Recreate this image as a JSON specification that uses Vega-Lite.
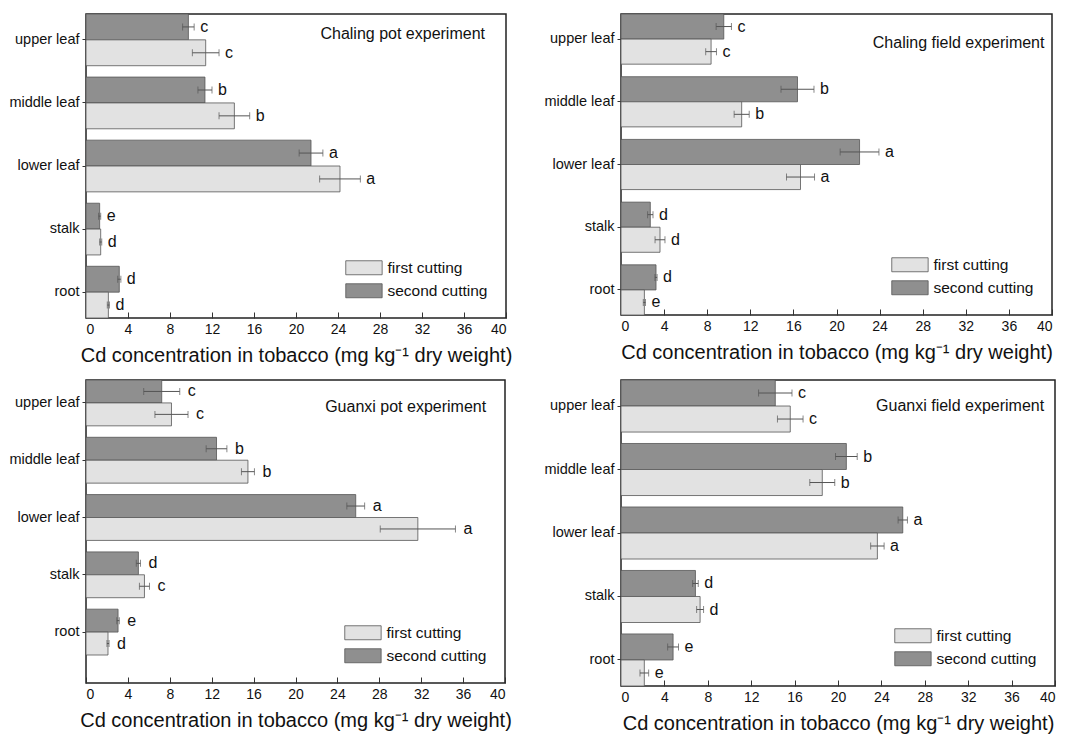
{
  "$schema": "https://vega.github.io/schema/vega-lite/v6.json",
  "padding": {"left": 8, "top": 12, "right": 5, "bottom": 5},
  "config": {
    "font": "Liberation Sans",
    "view": {"stroke": "#222", "strokeWidth": 1.5},
    "axis": {"domain": false, "grid": false, "labelColor": "#111", "titleColor": "#111", "tickColor": "#333", "labelFontWeight": "normal", "titleFontWeight": "normal"},
    "axisX": {"labelFontSize": 14, "titleFontSize": 20, "labelPadding": 10, "titlePadding": 9},
    "axisY": {"labelFontSize": 14.5, "tickSize": 4, "labelPadding": 3},
    "legend": {
      "orient": "bottom-right", "offset": 18, "title": null,
      "symbolType": "M-1,-1H4.2V1H-1Z", "symbolSize": 196,
      "symbolStrokeColor": "#555", "symbolStrokeWidth": 0.8,
      "labelFontSize": 15.5, "labelOffset": 27, "rowPadding": 5, "labelColor": "#111"
    },
    "bar": {"stroke": "#555", "strokeWidth": 0.8},
    "text": {"fontSize": 16, "color": "#111"}
  },
  "datasets": {
    "d": [
      {"p": "CP", "part": "upper leaf", "cut": "second cutting", "v": 9.75, "lo": 9.2, "hi": 10.3, "sig": "c"},
      {"p": "CP", "part": "upper leaf", "cut": "first cutting", "v": 11.4, "lo": 10.13, "hi": 12.67, "sig": "c"},
      {"p": "CP", "part": "middle leaf", "cut": "second cutting", "v": 11.33, "lo": 10.66, "hi": 12.0, "sig": "b"},
      {"p": "CP", "part": "middle leaf", "cut": "first cutting", "v": 14.13, "lo": 12.67, "hi": 15.59, "sig": "b"},
      {"p": "CP", "part": "lower leaf", "cut": "second cutting", "v": 21.43, "lo": 20.3, "hi": 22.56, "sig": "a"},
      {"p": "CP", "part": "lower leaf", "cut": "first cutting", "v": 24.19, "lo": 22.25, "hi": 26.13, "sig": "a"},
      {"p": "CP", "part": "stalk", "cut": "second cutting", "v": 1.3, "lo": 1.2, "hi": 1.4, "sig": "e"},
      {"p": "CP", "part": "stalk", "cut": "first cutting", "v": 1.4, "lo": 1.3, "hi": 1.5, "sig": "d"},
      {"p": "CP", "part": "root", "cut": "second cutting", "v": 3.17, "lo": 3.02, "hi": 3.32, "sig": "d"},
      {"p": "CP", "part": "root", "cut": "first cutting", "v": 2.13, "lo": 2.03, "hi": 2.23, "sig": "d"},

      {"p": "CF", "part": "upper leaf", "cut": "second cutting", "v": 9.54, "lo": 8.83, "hi": 10.25, "sig": "c"},
      {"p": "CF", "part": "upper leaf", "cut": "first cutting", "v": 8.36, "lo": 7.86, "hi": 8.86, "sig": "c"},
      {"p": "CF", "part": "middle leaf", "cut": "second cutting", "v": 16.38, "lo": 14.85, "hi": 17.91, "sig": "b"},
      {"p": "CF", "part": "middle leaf", "cut": "first cutting", "v": 11.2, "lo": 10.5, "hi": 11.9, "sig": "b"},
      {"p": "CF", "part": "lower leaf", "cut": "second cutting", "v": 22.14, "lo": 20.34, "hi": 23.94, "sig": "a"},
      {"p": "CF", "part": "lower leaf", "cut": "first cutting", "v": 16.66, "lo": 15.36, "hi": 17.96, "sig": "a"},
      {"p": "CF", "part": "stalk", "cut": "second cutting", "v": 2.72, "lo": 2.47, "hi": 2.97, "sig": "d"},
      {"p": "CF", "part": "stalk", "cut": "first cutting", "v": 3.62, "lo": 3.16, "hi": 4.08, "sig": "d"},
      {"p": "CF", "part": "root", "cut": "second cutting", "v": 3.25, "lo": 3.15, "hi": 3.35, "sig": "d"},
      {"p": "CF", "part": "root", "cut": "first cutting", "v": 2.17, "lo": 2.07, "hi": 2.27, "sig": "e"},

      {"p": "GP", "part": "upper leaf", "cut": "second cutting", "v": 7.23, "lo": 5.51, "hi": 8.95, "sig": "c"},
      {"p": "GP", "part": "upper leaf", "cut": "first cutting", "v": 8.16, "lo": 6.58, "hi": 9.74, "sig": "c"},
      {"p": "GP", "part": "middle leaf", "cut": "second cutting", "v": 12.46, "lo": 11.47, "hi": 13.45, "sig": "b"},
      {"p": "GP", "part": "middle leaf", "cut": "first cutting", "v": 15.46, "lo": 14.84, "hi": 16.08, "sig": "b"},
      {"p": "GP", "part": "lower leaf", "cut": "second cutting", "v": 25.75, "lo": 24.9, "hi": 26.6, "sig": "a"},
      {"p": "GP", "part": "lower leaf", "cut": "first cutting", "v": 31.68, "lo": 28.09, "hi": 35.27, "sig": "a"},
      {"p": "GP", "part": "stalk", "cut": "second cutting", "v": 5.0, "lo": 4.8, "hi": 5.2, "sig": "d"},
      {"p": "GP", "part": "stalk", "cut": "first cutting", "v": 5.58, "lo": 5.1, "hi": 6.06, "sig": "c"},
      {"p": "GP", "part": "root", "cut": "second cutting", "v": 3.06, "lo": 2.94, "hi": 3.18, "sig": "e"},
      {"p": "GP", "part": "root", "cut": "first cutting", "v": 2.1, "lo": 2.0, "hi": 2.2, "sig": "d"},

      {"p": "GF", "part": "upper leaf", "cut": "second cutting", "v": 14.22, "lo": 12.68, "hi": 15.76, "sig": "c"},
      {"p": "GF", "part": "upper leaf", "cut": "first cutting", "v": 15.6, "lo": 14.42, "hi": 16.78, "sig": "c"},
      {"p": "GF", "part": "middle leaf", "cut": "second cutting", "v": 20.77, "lo": 19.77, "hi": 21.77, "sig": "b"},
      {"p": "GF", "part": "middle leaf", "cut": "first cutting", "v": 18.55, "lo": 17.4, "hi": 19.7, "sig": "b"},
      {"p": "GF", "part": "lower leaf", "cut": "second cutting", "v": 25.97, "lo": 25.54, "hi": 26.4, "sig": "a"},
      {"p": "GF", "part": "lower leaf", "cut": "first cutting", "v": 23.63, "lo": 23.01, "hi": 24.25, "sig": "a"},
      {"p": "GF", "part": "stalk", "cut": "second cutting", "v": 6.86, "lo": 6.6, "hi": 7.12, "sig": "d"},
      {"p": "GF", "part": "stalk", "cut": "first cutting", "v": 7.29, "lo": 6.97, "hi": 7.61, "sig": "d"},
      {"p": "GF", "part": "root", "cut": "second cutting", "v": 4.8, "lo": 4.3, "hi": 5.3, "sig": "e"},
      {"p": "GF", "part": "root", "cut": "first cutting", "v": 2.15, "lo": 1.75, "hi": 2.55, "sig": "e"}
    ],
    "labels": [
      {"p": "CP", "t": "Chaling pot experiment"},
      {"p": "CF", "t": "Chaling field experiment"},
      {"p": "GP", "t": "Guanxi pot experiment"},
      {"p": "GF", "t": "Guanxi field experiment"}
    ]
  },
  "columns": 2,
  "spacing": {"row": 12, "column": 30},
  "resolve": {"scale": {"fill": "independent", "x": "independent", "y": "independent", "yOffset": "independent"}, "legend": {"fill": "independent"}},
  "concat": [
    {
      "width": 420, "height": 304,
      "encoding": {
        "y": {"field": "part", "type": "nominal", "title": null, "scale": {"domain": ["upper leaf", "middle leaf", "lower leaf", "stalk", "root"], "paddingInner": 0.18, "paddingOuter": 0}}
      },
      "layer": [
        {
          "data": {"name": "d"}, "transform": [{"filter": "datum.p === 'CP'"}],
          "mark": {"type": "bar"},
          "encoding": {
            "x": {"field": "v", "type": "quantitative", "scale": {"domain": [0, 40], "nice": false}, "title": "Cd concentration in tobacco (mg kg⁻¹ dry weight)",
              "axis": {"values": [0, 2, 4, 6, 8, 10, 12, 14, 16, 18, 20, 22, 24, 26, 28, 30, 32, 34, 36, 38, 40], "labelExpr": "datum.value % 4 === 0 ? datum.label : ''", "tickSize": {"condition": {"test": "datum.value % 4 === 0", "value": -6}, "value": -3}}},
            "yOffset": {"field": "cut", "type": "nominal", "scale": {"domain": ["second cutting", "first cutting"], "paddingInner": 0, "paddingOuter": 0}},
            "fill": {"field": "cut", "type": "nominal", "scale": {"domain": ["first cutting", "second cutting"], "range": ["#e2e2e2", "#8f8f8f"]}, "legend": {}}
          }
        },
        {
          "data": {"name": "d"}, "transform": [{"filter": "datum.p === 'CP'"}],
          "mark": {"type": "rule", "color": "#555", "strokeWidth": 1},
          "encoding": {"x": {"field": "lo", "type": "quantitative"}, "x2": {"field": "hi"}, "yOffset": {"field": "cut", "type": "nominal"}}
        },
        {
          "data": {"name": "d"}, "transform": [{"filter": "datum.p === 'CP'"}],
          "mark": {"type": "tick", "color": "#555", "size": 7, "thickness": 1},
          "encoding": {"x": {"field": "lo", "type": "quantitative"}, "yOffset": {"field": "cut", "type": "nominal"}}
        },
        {
          "data": {"name": "d"}, "transform": [{"filter": "datum.p === 'CP'"}],
          "mark": {"type": "tick", "color": "#555", "size": 7, "thickness": 1},
          "encoding": {"x": {"field": "hi", "type": "quantitative"}, "yOffset": {"field": "cut", "type": "nominal"}}
        },
        {
          "data": {"name": "d"}, "transform": [{"filter": "datum.p === 'CP'"}],
          "mark": {"type": "text", "align": "left", "baseline": "middle", "dx": 6},
          "encoding": {"x": {"field": "hi", "type": "quantitative"}, "yOffset": {"field": "cut", "type": "nominal"}, "text": {"field": "sig"}}
        },
        {
          "data": {"name": "labels"}, "transform": [{"filter": "datum.p === 'CP'"}],
          "mark": {"type": "text", "align": "right", "baseline": "middle", "dy": -6},
          "encoding": {"x": {"datum": 38.0, "type": "quantitative"}, "y": {"datum": "upper leaf", "type": "nominal"}, "text": {"field": "t"}}
        }
      ]
    },
    {
      "width": 431, "height": 301,
      "encoding": {
        "y": {"field": "part", "type": "nominal", "title": null, "scale": {"domain": ["upper leaf", "middle leaf", "lower leaf", "stalk", "root"], "paddingInner": 0.2, "paddingOuter": 0}}
      },
      "layer": [
        {
          "data": {"name": "d"}, "transform": [{"filter": "datum.p === 'CF'"}],
          "mark": {"type": "bar"},
          "encoding": {
            "x": {"field": "v", "type": "quantitative", "scale": {"domain": [0, 40], "nice": false}, "title": "Cd concentration in tobacco (mg kg⁻¹ dry weight)",
              "axis": {"values": [0, 2, 4, 6, 8, 10, 12, 14, 16, 18, 20, 22, 24, 26, 28, 30, 32, 34, 36, 38, 40], "labelExpr": "datum.value % 4 === 0 ? datum.label : ''", "tickSize": {"condition": {"test": "datum.value % 4 === 0", "value": -6}, "value": -3}}},
            "yOffset": {"field": "cut", "type": "nominal", "scale": {"domain": ["second cutting", "first cutting"], "paddingInner": 0, "paddingOuter": 0}},
            "fill": {"field": "cut", "type": "nominal", "scale": {"domain": ["first cutting", "second cutting"], "range": ["#e2e2e2", "#8f8f8f"]}, "legend": {}}
          }
        },
        {
          "data": {"name": "d"}, "transform": [{"filter": "datum.p === 'CF'"}],
          "mark": {"type": "rule", "color": "#555", "strokeWidth": 1},
          "encoding": {"x": {"field": "lo", "type": "quantitative"}, "x2": {"field": "hi"}, "yOffset": {"field": "cut", "type": "nominal"}}
        },
        {
          "data": {"name": "d"}, "transform": [{"filter": "datum.p === 'CF'"}],
          "mark": {"type": "tick", "color": "#555", "size": 7, "thickness": 1},
          "encoding": {"x": {"field": "lo", "type": "quantitative"}, "yOffset": {"field": "cut", "type": "nominal"}}
        },
        {
          "data": {"name": "d"}, "transform": [{"filter": "datum.p === 'CF'"}],
          "mark": {"type": "tick", "color": "#555", "size": 7, "thickness": 1},
          "encoding": {"x": {"field": "hi", "type": "quantitative"}, "yOffset": {"field": "cut", "type": "nominal"}}
        },
        {
          "data": {"name": "d"}, "transform": [{"filter": "datum.p === 'CF'"}],
          "mark": {"type": "text", "align": "left", "baseline": "middle", "dx": 6},
          "encoding": {"x": {"field": "hi", "type": "quantitative"}, "yOffset": {"field": "cut", "type": "nominal"}, "text": {"field": "sig"}}
        },
        {
          "data": {"name": "labels"}, "transform": [{"filter": "datum.p === 'CF'"}],
          "mark": {"type": "text", "align": "right", "baseline": "middle", "dy": 4},
          "encoding": {"x": {"datum": 39.3, "type": "quantitative"}, "y": {"datum": "upper leaf", "type": "nominal"}, "text": {"field": "t"}}
        }
      ]
    },
    {
      "width": 419, "height": 303,
      "encoding": {
        "y": {"field": "part", "type": "nominal", "title": null, "scale": {"domain": ["upper leaf", "middle leaf", "lower leaf", "stalk", "root"], "range": [0, 275], "paddingInner": 0.2, "paddingOuter": 0}}
      },
      "layer": [
        {
          "data": {"name": "d"}, "transform": [{"filter": "datum.p === 'GP'"}],
          "mark": {"type": "bar"},
          "encoding": {
            "x": {"field": "v", "type": "quantitative", "scale": {"domain": [0, 40], "nice": false}, "title": "Cd concentration in tobacco (mg kg⁻¹ dry weight)",
              "axis": {"values": [0, 2, 4, 6, 8, 10, 12, 14, 16, 18, 20, 22, 24, 26, 28, 30, 32, 34, 36, 38, 40], "labelExpr": "datum.value % 4 === 0 ? datum.label : ''", "tickSize": {"condition": {"test": "datum.value % 4 === 0", "value": -6}, "value": -3}}},
            "yOffset": {"field": "cut", "type": "nominal", "scale": {"domain": ["second cutting", "first cutting"], "paddingInner": 0, "paddingOuter": 0}},
            "fill": {"field": "cut", "type": "nominal", "scale": {"domain": ["first cutting", "second cutting"], "range": ["#e2e2e2", "#8f8f8f"]}, "legend": {}}
          }
        },
        {
          "data": {"name": "d"}, "transform": [{"filter": "datum.p === 'GP'"}],
          "mark": {"type": "rule", "color": "#555", "strokeWidth": 1},
          "encoding": {"x": {"field": "lo", "type": "quantitative"}, "x2": {"field": "hi"}, "yOffset": {"field": "cut", "type": "nominal"}}
        },
        {
          "data": {"name": "d"}, "transform": [{"filter": "datum.p === 'GP'"}],
          "mark": {"type": "tick", "color": "#555", "size": 7, "thickness": 1},
          "encoding": {"x": {"field": "lo", "type": "quantitative"}, "yOffset": {"field": "cut", "type": "nominal"}}
        },
        {
          "data": {"name": "d"}, "transform": [{"filter": "datum.p === 'GP'"}],
          "mark": {"type": "tick", "color": "#555", "size": 7, "thickness": 1},
          "encoding": {"x": {"field": "hi", "type": "quantitative"}, "yOffset": {"field": "cut", "type": "nominal"}}
        },
        {
          "data": {"name": "d"}, "transform": [{"filter": "datum.p === 'GP'"}],
          "mark": {"type": "text", "align": "left", "baseline": "middle", "dx": 8},
          "encoding": {"x": {"field": "hi", "type": "quantitative"}, "yOffset": {"field": "cut", "type": "nominal"}, "text": {"field": "sig"}}
        },
        {
          "data": {"name": "labels"}, "transform": [{"filter": "datum.p === 'GP'"}],
          "mark": {"type": "text", "align": "right", "baseline": "middle", "dy": 4},
          "encoding": {"x": {"datum": 38.2, "type": "quantitative"}, "y": {"datum": "upper leaf", "type": "nominal"}, "text": {"field": "t"}}
        }
      ]
    },
    {
      "width": 434, "height": 306,
      "encoding": {
        "y": {"field": "part", "type": "nominal", "title": null, "scale": {"domain": ["upper leaf", "middle leaf", "lower leaf", "stalk", "root"], "paddingInner": 0.18, "paddingOuter": 0}}
      },
      "layer": [
        {
          "data": {"name": "d"}, "transform": [{"filter": "datum.p === 'GF'"}],
          "mark": {"type": "bar"},
          "encoding": {
            "x": {"field": "v", "type": "quantitative", "scale": {"domain": [0, 40], "nice": false}, "title": "Cd concentration in tobacco (mg kg⁻¹ dry weight)",
              "axis": {"values": [0, 2, 4, 6, 8, 10, 12, 14, 16, 18, 20, 22, 24, 26, 28, 30, 32, 34, 36, 38, 40], "labelExpr": "datum.value % 4 === 0 ? datum.label : ''", "tickSize": {"condition": {"test": "datum.value % 4 === 0", "value": -6}, "value": -3}}},
            "yOffset": {"field": "cut", "type": "nominal", "scale": {"domain": ["second cutting", "first cutting"], "paddingInner": 0, "paddingOuter": 0}},
            "fill": {"field": "cut", "type": "nominal", "scale": {"domain": ["first cutting", "second cutting"], "range": ["#e2e2e2", "#8f8f8f"]}, "legend": {}}
          }
        },
        {
          "data": {"name": "d"}, "transform": [{"filter": "datum.p === 'GF'"}],
          "mark": {"type": "rule", "color": "#555", "strokeWidth": 1},
          "encoding": {"x": {"field": "lo", "type": "quantitative"}, "x2": {"field": "hi"}, "yOffset": {"field": "cut", "type": "nominal"}}
        },
        {
          "data": {"name": "d"}, "transform": [{"filter": "datum.p === 'GF'"}],
          "mark": {"type": "tick", "color": "#555", "size": 7, "thickness": 1},
          "encoding": {"x": {"field": "lo", "type": "quantitative"}, "yOffset": {"field": "cut", "type": "nominal"}}
        },
        {
          "data": {"name": "d"}, "transform": [{"filter": "datum.p === 'GF'"}],
          "mark": {"type": "tick", "color": "#555", "size": 7, "thickness": 1},
          "encoding": {"x": {"field": "hi", "type": "quantitative"}, "yOffset": {"field": "cut", "type": "nominal"}}
        },
        {
          "data": {"name": "d"}, "transform": [{"filter": "datum.p === 'GF'"}],
          "mark": {"type": "text", "align": "left", "baseline": "middle", "dx": 6},
          "encoding": {"x": {"field": "hi", "type": "quantitative"}, "yOffset": {"field": "cut", "type": "nominal"}, "text": {"field": "sig"}}
        },
        {
          "data": {"name": "labels"}, "transform": [{"filter": "datum.p === 'GF'"}],
          "mark": {"type": "text", "align": "right", "baseline": "middle", "dy": 0},
          "encoding": {"x": {"datum": 39.0, "type": "quantitative"}, "y": {"datum": "upper leaf", "type": "nominal"}, "text": {"field": "t"}}
        }
      ]
    }
  ]
}
